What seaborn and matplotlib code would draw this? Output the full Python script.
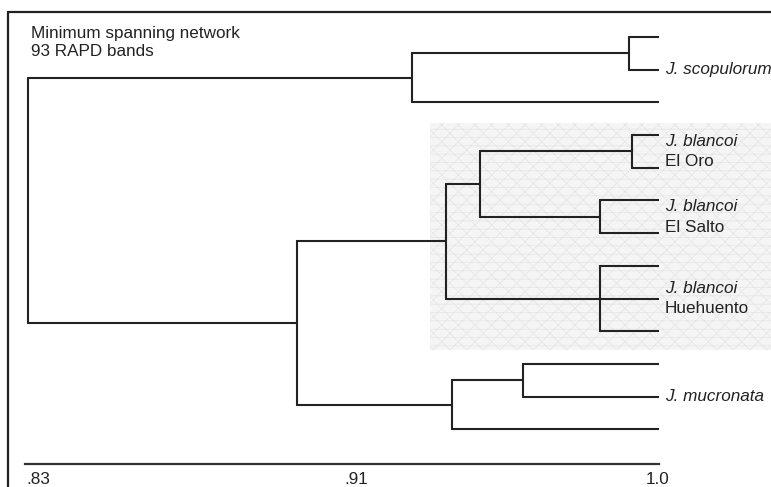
import numpy as np
import matplotlib.pyplot as plt
import pandas as pd
import seaborn as sns
from matplotlib.patches import Rectangle
from matplotlib.lines import Line2D

# similarity of each cluster node, leaves are numbered 0..12 from the top
node_names = ["scop_a", "scop", "oro", "salto", "oro_salto", "hueh",
              "blancoi", "muc_a", "muc", "lower", "root"]
node_sim = [0.9920, 0.9338, 0.9928, 0.9842, 0.9520, 0.9842,
            0.9429, 0.9635, 0.9445, 0.9029, 0.8309]
node_children = [[0, 1], ["scop_a", 2], [3, 4], [5, 6], ["oro", "salto"],
                 [7, 8, 9], ["oro_salto", "hueh"], [10, 11], ["muc_a", 12],
                 ["blancoi", "muc"], ["scop", "lower"]]

# labels at the leaves
label_rows = [1, 3.5, 5.5, 8, 11]
label_species = ["J. scopulorum", "J. blancoi", "J. blancoi", "J. blancoi", "J. mucronata"]
label_site = ["", "El Oro", "El Salto", "Huehuento", ""]

tick_pos = [0.8335, 0.9188, 0.9995]
tick_labels = [".83", ".91", "1.0"]

sns.set_theme(style="white")
plt.rcParams["font.family"] = ["Liberation Sans", "DejaVu Sans"]
plt.rcParams["hatch.linewidth"] = 0.5
ink = "#222222"
fs = 12.3

# walk the tree, collect segments
sim = dict(zip(node_names, node_sim))
kids = dict(zip(node_names, node_children))
ypos = {}
rows = []
seg = 0


def place(c):
    if isinstance(c, int):
        return 1.0, float(c)
    return sim[c], ypos[c]


for name in node_names:
    pts = [place(c) for c in kids[name]]
    ys = [p[1] for p in pts]
    ypos[name] = (min(ys) + max(ys)) / 2
    x0 = sim[name]
    rows += [(x0, min(ys), seg), (x0, max(ys), seg)]
    seg += 1
    for cx, cy in pts:
        rows += [(x0, cy, seg), (cx, cy, seg)]
        seg += 1

df = pd.DataFrame(rows, columns=["x", "y", "seg"])

W, H = 771, 487
fig = plt.figure(figsize=(W / 100, H / 100), dpi=100)
ax = fig.add_axes([25 / W, 23 / H, 634 / W, 444 / H])
ax.patch.set_visible(False)

sns.lineplot(data=df, x="x", y="y", units="seg", estimator=None, sort=False,
             color=ink, linewidth=1.5, legend=False, ax=ax)

ax.set_xlim(0.83, 1.0)
ax.set_ylim(13.06, -0.52)
ax.set_xlabel("")
ax.set_ylabel("")
ax.set_yticks([])
ax.set_xticks(tick_pos, tick_labels)
ax.tick_params(axis="x", length=0, pad=5.5, labelsize=fs, labelcolor=ink)
for s in ["top", "left", "right"]:
    ax.spines[s].set_visible(False)
ax.spines["bottom"].set_linewidth(1.6)
ax.spines["bottom"].set_color("#333333")

for r, sp, site in zip(label_rows, label_species, label_site):
    dy = 7.5 if site else 0
    ax.annotate(sp, xy=(1.0, r), xytext=(4, dy), textcoords="offset points",
                ha="left", va="center", fontsize=fs, style="italic",
                color=ink, annotation_clip=False)
    if site:
        ax.annotate(site, xy=(1.0, r), xytext=(4, -7.5), textcoords="offset points",
                    ha="left", va="center", fontsize=fs, color=ink,
                    annotation_clip=False)

# shaded J. blancoi box with a faint mesh texture
box = Rectangle((430 / W, 1 - 350 / H), 345 / W, 227 / H, transform=fig.transFigure,
                facecolor="#f5f5f5", edgecolor="none", zorder=-2)
mesh = Rectangle((430 / W, 1 - 350 / H), 345 / W, 227 / H, transform=fig.transFigure,
                 facecolor="none", edgecolor="#e4e4e4", linewidth=0,
                 hatch="//\\\\--", zorder=-1)
fig.patches.extend([box, mesh])

# frame, cut off at right and bottom
fig.add_artist(Line2D([8 / W, 1], [1 - 12 / H] * 2, color=ink, linewidth=1.6))
fig.add_artist(Line2D([8 / W] * 2, [0, 1 - 12 / H], color=ink, linewidth=1.6))

fig.text(31 / W, 1 - 26 / H, "Minimum spanning network\n93 RAPD bands",
         ha="left", va="top", fontsize=fs, color=ink, linespacing=1.25)

fig.savefig("out.png", dpi=100)
